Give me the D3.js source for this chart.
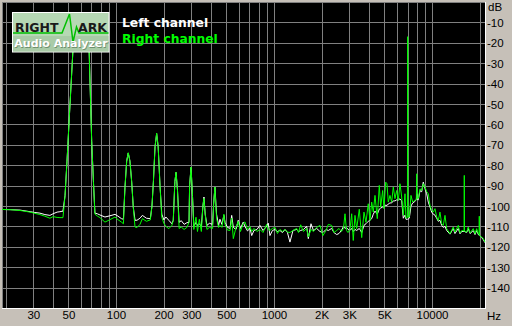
<!DOCTYPE html>
<html><head><meta charset="utf-8">
<script src="https://cdn.jsdelivr.net/npm/d3@7"></script>
<style>body{margin:0;background:#c6c0b8;}svg{display:block}</style>
</head><body><svg id="c" width="512" height="326"></svg>
<script>
// ---- data ----
const freq = [19,21.4,24.7,28.6,30.7,33.0,35.5,38.2,40.0,42.4,44.2,46.2,
47.6,49.0,51.2,53.3,55.1,57.6,60.0,62.6,65.3,67.7,70.2,72.0,73.6,
76.2,79.2,85.2,91.6,98.6,103,108.3,111.5,114,116.9,119.6,122.6,125.7,128.7,132,
135.8,141.9,147,155.9,165,169,172.6,176.7,180.9,185,190,195,
201,207,216,226,230.5,236,240,245,251,259,270,281,290,292.4,298.6,305,311,
321,328,337,347,355,360.5,367,376.5,390,409,415,423,433,446,455,468,482,
490,508,527,540,553,575,594,614,639,655,680,705,723,747,780,815,852,899,920,943,978,
1015,1052,1091,1132,1174,1217,1262,1319,1392,1429,1476,1537,1611,1649,1715,1778,1863,1955,
2042,2134,2207,2318,2397,2494,2578,2674,2754,2815,2877,2941,
3027,3103,3176,3256,3337,3467,3591,3712,3822,3952,4051,4153,4251,4358,4506,4640,4735,4875,4968,
5093,5190,5290,5421,5558,5690,5832,5978,6119,6273,6431,6583,6747,6846,6990,7018,7046,7183,7364,7547,7727,
7960,8004,8050,8190,8397,8607,8809,9030,9258,9475,9712,9956,10190,10447,10709,10960,11234,11516,11788,
12086,12388,12996,13637,13981,14671,15038,15417,15960,16012,16064,16583,16972,17400,18256,18716,19182,
19634,19860,19925,19990,20634,21120,21648];

const leftDb = [-101.7,-101.8,-102.0,-102.8,-103.2,-103.5,-104.2,-104.6,-103.8,-103.0,-102.8,-102.5,
-95,-78,-50,-25,-12,-8,-7,-8,-14,-25,-68,-88,-103.5,
-103.8,-104.4,-105.4,-104.8,-104.1,-105.0,-106.2,-106.5,-91,-78,-74,-78,-88,-100.5,-107,
-107,-106,-104.6,-106,-106.2,-100,-88,-71,-64.5,-71,-90,-104,
-106.8,-105.4,-107,-108.7,-107,-88,-83.5,-92,-108,-107.2,-109,-108.2,-108,-90,-81,-95,-110,
-108,-109.5,-108.7,-110,-100,-95.6,-104,-109.5,-108.5,-109,-99,-90.7,-104,-109.5,-106.5,-109,-104.6,
-108,-110.5,-111,-104.6,-110.5,-111.5,-107,-111,-107.9,-110,-112.2,-111,-114.5,-112,-111.5,-109.5,-112,-110,-108.4,-114.5,-112,
-111.5,-112.5,-112,-113,-111.5,-113,-117.7,-112,-111.5,-112.5,-112,-111.5,-110,-116,-108.7,-112,-111,-112.5,
-113,-111.5,-112,-111,-113,-114,-113.5,-112,-110,-111,-110.5,-111.5,
-112,-111,-112.5,-111.5,-112,-111,-113,-109.5,-108.7,-107.5,-107,-106.2,-104,-102.5,-104,-101.5,-101,-100.5,-100.5,
-99.5,-99.8,-99,-98.5,-98.5,-97.5,-97.5,-97,-97,-96.5,-97.5,-106,-104.5,-106.5,-106.5,-106.5,-106.5,-106,-100,-98.5,-98,
-97,-94,-96.5,-97,-92.5,-93,-88.3,-91.5,-94,-98.1,-100.5,-103,-104,-104.5,-106,-107.5,-107,-109.5,-110.5,
-110,-112,-113.8,-111,-113.5,-111,-113.6,-112.5,-112.5,-112.5,-112.5,-113,-111,-113.5,-112,-114,-112,
-114,-114,-114.5,-114.5,-115.5,-116.5,-118];

const rightDb = [-101.7,-101.8,-102.2,-103.0,-103.6,-104.2,-105.0,-106.0,-105.2,-105.6,-105.7,-105.7,
-95,-78,-50,-25,-12,-8,-7,-8,-14,-25,-68,-88,-104,
-104.9,-105.7,-107.9,-106.7,-105.4,-106.7,-107.9,-108.7,-91,-78,-73.9,-78,-88,-100.5,-110.3,
-110.6,-109,-106.2,-107.5,-106.8,-100,-88,-71,-64.3,-71,-90,-105.5,
-108.5,-110,-111.1,-109.5,-107,-88,-83.4,-92,-111,-110.3,-111.5,-110.5,-108,-90,-80.9,-95,-111.5,
-105.5,-112.5,-106.5,-112.5,-100,-96.3,-104,-111.5,-110.5,-111,-99,-90.7,-106,-110.5,-109.5,-110.5,-104,
-109,-111.8,-112,-106,-116,-110.5,-107.5,-112.5,-108.5,-107.8,-111.5,-110,-112.5,-111,-112.5,-111.5,-113,-109,-111.5,-112,-111,
-110.5,-113.5,-111.5,-112.5,-111.5,-112.8,-113,-112,-111,-113,-109.2,-112.5,-111,-115.2,-111.5,-112.5,-110.5,-109.5,
-114.5,-112,-109,-109.5,-113,-112,-111,-112.5,-111,-103.8,-112,-113,
-111.5,-103.8,-116.9,-104.6,-111.1,-101.6,-115.5,-103,-108,-98.9,-107.1,-98.1,-103,-94.8,-106.2,-89.9,-100.5,-92.4,-101.3,
-88.3,-89.1,-98.1,-94.8,-98.1,-90.7,-96.4,-92.4,-97.3,-89.1,-95.6,-104.6,-94,-106,-105.5,-17,-105.5,-105.4,-94.8,-98.1,-97.3,
-97,-84.2,-96,-96.4,-91.6,-92.4,-89.1,-90.7,-93,-94,-99.7,-102.2,-103,-101.3,-105.4,-107.1,-103,-108.7,-109.5,
-104.6,-111.1,-113.6,-110.3,-112.8,-109.5,-113.2,-112,-112.3,-85,-112.3,-112.8,-110.3,-113.2,-111.1,-113.6,-111.1,
-113.6,-114,-105,-114.5,-115.2,-116,-117.7];

const seriesNames = ["Left channel", "Right channel"];
const seriesColors = ["#ffffff", "#00ff00"];
const yTicks = [-10,-20,-30,-40,-50,-60,-70,-80,-90,-100,-110,-120,-130,-140];
const yTickLabels = ["-10","-20","-30","-40","-50","-60","-70","-80","-90","-100","-110","-120","-130","-140"];
const xGrid = [20,30,40,50,60,70,80,90,100,200,300,400,500,600,700,800,900,1000,2000,3000,4000,5000,6000,7000,8000,9000,10000,20000];
const xTickValues = [30,50,100,200,300,500,1000,2000,3000,5000,10000];
const xTickLabels = ["30","50","100","200","300","500","1000","2K","3K","5K","10000"];

// ---- drawing ----
const svg = d3.select("#c");
const X0 = 2, X1 = 486, Y0 = 2, Y1 = 309;
const x = d3.scaleLog().domain([19, 21970]).range([X0, X1]);
const y = d3.scaleLinear().domain([0, -150]).range([2, 308]);

svg.append("rect").attr("width",512).attr("height",326).attr("fill","#c6c0b8");
svg.append("rect").attr("x",X0).attr("y",Y0).attr("width",X1-X0).attr("height",Y1-Y0).attr("fill","#000");

const defs = svg.append("defs");
defs.append("clipPath").attr("id","clip").append("rect")
  .attr("x",X0).attr("y",Y0).attr("width",X1-X0).attr("height",Y1-Y0);

const grid = svg.append("g").attr("stroke","#808080").attr("stroke-width",1).attr("shape-rendering","crispEdges");
grid.selectAll("line.v").data(xGrid).join("line").attr("class","v")
  .attr("x1",d=>Math.round(x(d))+0.5).attr("x2",d=>Math.round(x(d))+0.5)
  .attr("y1",Y0).attr("y2",Y1);
grid.selectAll("line.h").data(yTicks).join("line").attr("class","h")
  .attr("y1",d=>Math.round(y(d))+0.5).attr("y2",d=>Math.round(y(d))+0.5)
  .attr("x1",X0).attr("x2",X1);

// frame
svg.append("path").attr("d",`M${X0+0.5},${Y1} V${Y0+0.5} H${X1}`)
  .attr("fill","none").attr("stroke","#808080").attr("shape-rendering","crispEdges");
svg.append("path").attr("d",`M${X0},${Y1-0.5} H${X1-0.5} V${Y0}`)
  .attr("fill","none").attr("stroke","#ffffff").attr("shape-rendering","crispEdges");

const line = d3.line().x((d,i)=>x(freq[i])).y(d=>y(d));
const traces = svg.append("g").attr("clip-path","url(#clip)");
[leftDb, rightDb].forEach((s,k)=>{
  traces.append("path").datum(s).attr("d",line)
    .attr("fill","none").attr("stroke",seriesColors[k]).attr("stroke-width",1)
    .attr("stroke-linejoin","round");
});

// axes
const fontAx = "'Liberation Sans', Arial, sans-serif";
const xAxis = d3.axisBottom(x).tickValues(xTickValues)
  .tickFormat((d,i)=>xTickLabels[i]).tickSize(0);
const gx = svg.append("g").call(xAxis);
gx.select(".domain").remove();
gx.selectAll("text").attr("y",319).attr("dy",0)
  .attr("font-family",fontAx).attr("font-size",11.5).attr("fill","#000");

const yAxis = d3.axisRight(y).tickValues(yTicks)
  .tickFormat((d,i)=>yTickLabels[i]).tickSize(0);
const gy = svg.append("g").attr("transform",`translate(${X1},0)`).call(yAxis);
gy.select(".domain").remove();
gy.selectAll("text").attr("x",1).attr("dy","0.36em").attr("text-anchor","start")
  .attr("font-family",fontAx).attr("font-size",11.5).attr("fill","#000");

svg.append("text").attr("x",488).attr("y",11).text("dB")
  .attr("font-family",fontAx).attr("font-size",11.5).attr("fill","#000");
svg.append("text").attr("x",487).attr("y",320).text("Hz")
  .attr("font-family",fontAx).attr("font-size",11.5).attr("fill","#000");

// legend
const fontL = "'DejaVu Sans', Verdana, sans-serif";
seriesNames.forEach((n,k)=>{
  svg.append("text").attr("x",122).attr("y",27+16*k).text(n)
    .attr("font-family",fontL).attr("font-weight","bold").attr("font-size",12.3)
    .attr("fill",seriesColors[k]);
});

// logo
const logo = svg.append("g");
logo.append("rect").attr("x",12.5).attr("y",12.5).attr("width",96.5).attr("height",39.5)
  .attr("fill","#b6d8b4").attr("stroke","#ffffff").attr("stroke-width",1);
logo.append("rect").attr("x",13).attr("y",36).attr("width",95.5).attr("height",15.5)
  .attr("fill","#a9cba7");
logo.append("path").attr("d","M13,33 H62 L69.5,14 L73,42 L76.5,27 L79,33 H108.5")
  .attr("fill","none").attr("stroke","#00c000").attr("stroke-width",1.5);
logo.append("text").attr("x",15).attr("y",31.5).text("RIGHT")
  .attr("font-family",fontL).attr("font-weight","bold").attr("font-size",12.5).attr("fill","#1a1a1a");
logo.append("text").attr("x",107).attr("y",31.5).attr("text-anchor","end").text("ARK")
  .attr("font-family",fontL).attr("font-weight","bold").attr("font-size",12.5).attr("fill","#1a1a1a");
logo.append("text").attr("x",61).attr("y",47).attr("text-anchor","middle").text("Audio Analyzer")
  .attr("font-family",fontL).attr("font-weight","bold").attr("font-size",11).attr("fill","#6f8f6d")
  .attr("transform","translate(0.8,0.8)");
logo.append("text").attr("x",61).attr("y",47).attr("text-anchor","middle").text("Audio Analyzer")
  .attr("font-family",fontL).attr("font-weight","bold").attr("font-size",11).attr("fill","#ffffff");
</script></body></html>
